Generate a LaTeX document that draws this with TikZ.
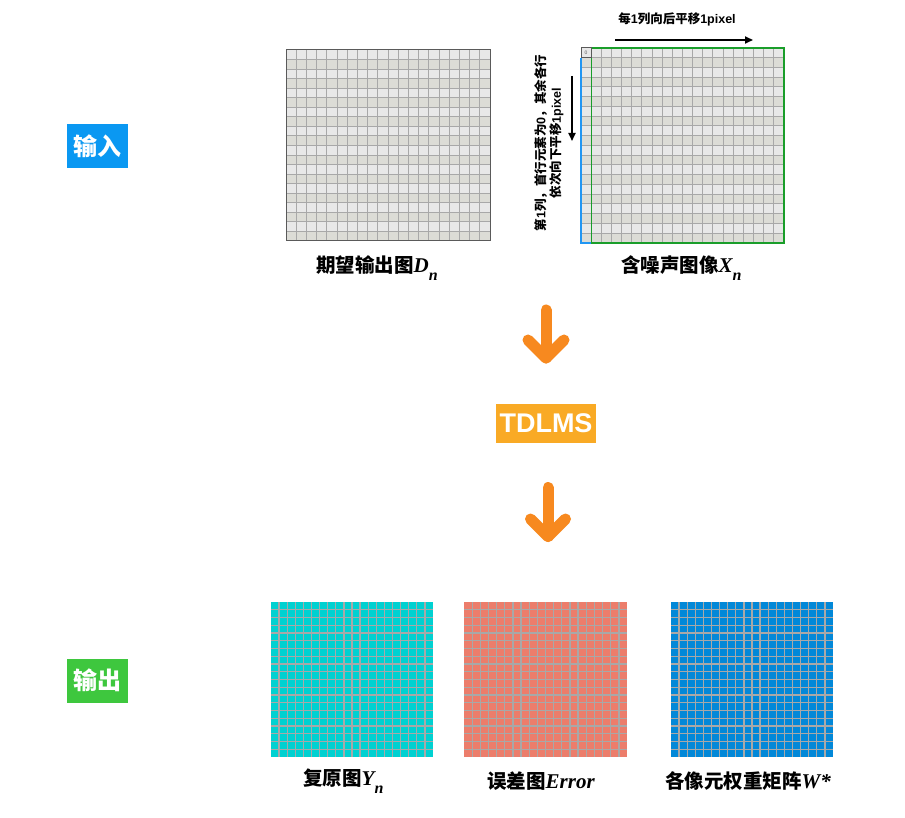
\documentclass[tikz,border=0pt]{standalone}
\usepackage{fontspec}
\setmainfont{Liberation Sans}
\newfontfamily\cjk{Noto Sans CJK SC}
\newfontfamily\tms{Liberation Serif}
\usetikzlibrary{arrows.meta}
\definecolor{rowlight}{HTML}{E8E8E8}
\definecolor{rowdark}{HTML}{DCDCD6}
\definecolor{gridgray}{HTML}{A8A8A8}
\definecolor{bordergray}{HTML}{5A5A5A}
\definecolor{cyanfill}{HTML}{00D1D1}
\definecolor{salmonfill}{HTML}{EC7D6B}
\definecolor{bluefill}{HTML}{0288D8}
\definecolor{inblue}{HTML}{0A98F2}
\definecolor{outgreen}{HTML}{3EC73E}
\definecolor{tdorange}{HTML}{F9AA25}
\definecolor{arrorange}{HTML}{F7891F}
\definecolor{xgreen}{HTML}{1A9E2A}
\definecolor{xblue}{HTML}{2196F3}
\tikzset{
  x=1pt,y=-1pt,
  gridln/.style={draw=gridgray,line width=1pt},
  gridlnb/.style={draw=gridgray,line width=1.3pt},
  tag/.style={text=white,font=\cjk\bfseries\fontsize{24}{24}\selectfont,minimum width=61pt,minimum height=44pt,inner sep=0pt},
  caption/.style={anchor=west,inner sep=0pt,font=\cjk\bfseries\fontsize{19.5}{20}\selectfont},
  small/.style={inner sep=0pt,font=\cjk\bfseries\fontsize{12.5}{15.5}\selectfont},
  blackarr/.style={line width=1.8pt,-{Triangle[length=8pt,width=7pt]}},
  bigarr/.style={draw=arrorange,line width=11pt,line cap=round,line join=round},
}
\newcommand{\itx}[1]{{\tms\itshape\fontsize{21}{21}\selectfont #1}}
\newcommand{\subn}{\raisebox{-7.5pt}{\tms\itshape\fontsize{16}{16}\selectfont n}}
\newcommand{\lat}[1]{{\rmfamily\bfseries #1}}
\begin{document}
\begin{tikzpicture}
\useasboundingbox (0,0) rectangle (905,818);
\fill[white] (0,0) rectangle (905,818);

% ---------- input tag
\node[tag,fill=inblue] (in) at (97.5,146) {输入};
\node[tag,fill=outgreen] (out) at (97.5,680.5) {输出};

% ---------- D_n grid
\node[inner sep=0pt,minimum width=204pt,minimum height=191pt,anchor=north west] (Dg) at (286,50) {};
\foreach \r in {0,...,19}{
  \ifodd\r \def\rc{rowdark}\else\def\rc{rowlight}\fi
  \fill[\rc] (286,50+\r*9.55) rectangle (490,50+\r*9.55+9.55);
}
\foreach \i in {1,...,19}{
  \draw[gridln] (286+\i*10.2,50) -- (286+\i*10.2,241);
  \draw[gridln] (286,50+\i*9.55) -- (490,50+\i*9.55);
}
\draw[draw=bordergray,line width=1pt] (286,50) rectangle (490,241);
\node[caption] (Dl) at (316,268) {期望输出图\itx{D}\subn};

% ---------- X_n grid
\node[inner sep=0pt,minimum width=203pt,minimum height=195pt,anchor=north west] (Xg) at (581,48) {};
\foreach \r in {0,...,19}{
  \ifodd\r \def\rc{rowdark}\else\def\rc{rowlight}\fi
  \fill[\rc] (581,48+\r*9.75) rectangle (784,48+\r*9.75+9.75);
}
\foreach \i in {1,...,19}{
  \draw[gridln] (581+\i*10.15,48) -- (581+\i*10.15,243);
  \draw[gridln] (581,48+\i*9.75) -- (784,48+\i*9.75);
}
\draw[xblue,line width=1.2pt] (581,57.75) -- (581,243) -- (591.15,243);
\draw[xgreen,line width=1.2pt] (591.15,48) rectangle (784,243);
\draw[bordergray,line width=1pt] (581,48) rectangle (591.15,57.75);
\node[inner sep=0pt,font=\fontsize{5}{5}\selectfont,text=bordergray] (zero) at (586,53) {0};
\node[caption] (Xl) at (621,268) {含噪声图像\itx{X}\subn};

% small arrows and notes
\node[small] (topnote) at (677,19) {每\lat{1}列向后平移\lat{1pixel}};
\coordinate (ha) at (615,40);
\coordinate (hb) at (753,40);
\draw[blackarr] (ha) -- (hb);
\node[small,rotate=90,align=center] (sidenote) at (549,143) {第\lat{1}列，首行元素为\lat{0}，其余各行\\依次向下平移\lat{1pixel}};
\coordinate (va) at (572,76);
\coordinate (vb) at (572,141);
\draw[blackarr] (va) -- (vb);

% ---------- arrows and TDLMS
\node[fill=tdorange,text=white,font=\bfseries\fontsize{27}{27}\selectfont,minimum width=100pt,minimum height=39pt,inner sep=0pt] (td) at (546,423) {TDLMS};
\coordinate (a1s) at (546,310);
\coordinate (a1t) at (546,358);
\coordinate (a1l) at (528,340);
\coordinate (a1r) at (564,340);
\draw[bigarr] (a1s) -- (a1t);
\draw[bigarr] (a1l) -- (a1t) -- (a1r);
\coordinate (a2s) at (548,487.5);
\coordinate (a2t) at (548,536.5);
\coordinate (a2l) at (530.5,519);
\coordinate (a2r) at (565.5,519);
\draw[bigarr] (a2s) -- (a2t);
\draw[bigarr] (a2l) -- (a2t) -- (a2r);

% ---------- output grids
\node[inner sep=0pt,minimum width=162pt,minimum height=155pt,anchor=north west,fill=cyanfill] (Yg) at (271,602) {};
\node[inner sep=0pt,minimum width=163pt,minimum height=155pt,anchor=north west,fill=salmonfill] (Eg) at (464,602) {};
\node[inner sep=0pt,minimum width=162pt,minimum height=155pt,anchor=north west,fill=bluefill] (Wg) at (671,602) {};
\foreach \x/\w in {271/162,464/163,671/162}{
  \foreach \i in {1,...,19}{
    \draw[gridlnb] (\x+\i*\w/20,602) -- (\x+\i*\w/20,757);
    \draw[gridlnb] (\x,602+\i*7.75) -- (\x+\w,602+\i*7.75);
  }
}
\node[caption] (Yl) at (303,781) {复原图\itx{Y}\subn};
\node[caption] (El) at (487,781) {误差图\itx{Error}};
\node[caption] (Wl) at (665,781) {各像元权重矩阵\itx{W*}};
\end{tikzpicture}
\end{document}
